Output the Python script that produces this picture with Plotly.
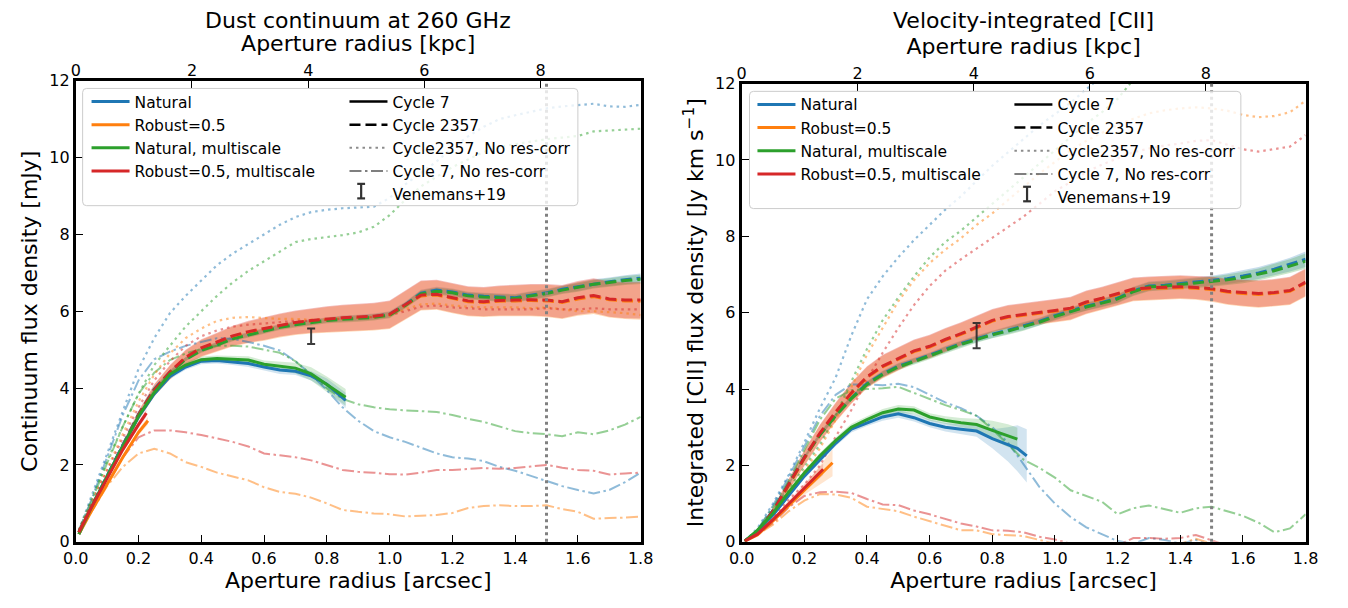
import plotly.graph_objects as go

# ============================ DATA ============================
# common radius grid (arcsec) for the Cycle 2357 / no-res-corr curves
r_grid = [0.01, 0.05, 0.10, 0.15, 0.20, 0.25, 0.30, 0.35, 0.40, 0.45, 0.50, 0.55, 0.60,
          0.65, 0.70, 0.75, 0.80, 0.85, 0.90, 0.95, 1.00, 1.05, 1.10, 1.15, 1.20, 1.25,
          1.30, 1.35, 1.40, 1.45, 1.50, 1.55, 1.60, 1.65, 1.70, 1.75, 1.80]

# ---------- Left panel: dust continuum [mJy] ----------
cont_c7_r = [0.01, 0.05, 0.10, 0.15, 0.20, 0.25, 0.30, 0.35, 0.40, 0.45, 0.50, 0.55, 0.60,
             0.65, 0.70, 0.75, 0.80, 0.86]
cont_c7_natural = [0.2, 0.9, 1.7, 2.5, 3.25, 3.85, 4.3, 4.55, 4.7, 4.72, 4.68, 4.64, 4.55,
                   4.47, 4.44, 4.32, 4.1, 3.68]
cont_c7_natural_err = [0.02, 0.03, 0.04, 0.05, 0.06, 0.06, 0.07, 0.07, 0.08, 0.08, 0.08, 0.09,
                       0.09, 0.1, 0.1, 0.12, 0.15, 0.2]
cont_c7_natms = [0.2, 0.9, 1.7, 2.5, 3.27, 3.88, 4.36, 4.6, 4.74, 4.77, 4.75, 4.73, 4.62,
                 4.57, 4.52, 4.37, 4.1, 3.76]
cont_c7_natms_err = [0.02, 0.03, 0.04, 0.05, 0.06, 0.06, 0.07, 0.07, 0.08, 0.08, 0.09, 0.1,
                     0.1, 0.12, 0.14, 0.17, 0.2, 0.22]
cont_c7_robust_r = [0.01, 0.05, 0.10, 0.15, 0.20, 0.23]
cont_c7_robust = [0.2, 0.8, 1.5, 2.2, 2.85, 3.15]
cont_c7_robms_r = [0.01, 0.05, 0.10, 0.15, 0.20, 0.225]
cont_c7_robms = [0.25, 0.9, 1.65, 2.4, 3.05, 3.35]
cont_c7_rob_err = [0.02, 0.03, 0.05, 0.06, 0.08, 0.1]

cont_c2357_natural = [0.25, 0.92, 1.72, 2.52, 3.32, 3.97, 4.42, 4.76, 5.0, 5.14, 5.3, 5.4, 5.5,
                      5.6, 5.67, 5.72, 5.78, 5.81, 5.83, 5.86, 5.92, 6.17, 6.47, 6.55, 6.5, 6.42,
                      6.39, 6.37, 6.35, 6.42, 6.48, 6.57, 6.64, 6.72, 6.77, 6.82, 6.86]
cont_c2357_robust = [0.25, 0.88, 1.68, 2.48, 3.28, 3.93, 4.4, 4.78, 5.03, 5.18, 5.34, 5.45, 5.53,
                     5.62, 5.69, 5.74, 5.78, 5.81, 5.83, 5.85, 5.9, 6.15, 6.4, 6.42, 6.33, 6.25,
                     6.23, 6.26, 6.27, 6.28, 6.27, 6.23, 6.32, 6.38, 6.3, 6.27, 6.26]
cont_c2357_natms = [0.25, 0.9, 1.7, 2.5, 3.3, 3.95, 4.4, 4.75, 4.98, 5.12, 5.28, 5.38, 5.48,
                    5.58, 5.65, 5.7, 5.76, 5.79, 5.81, 5.84, 5.9, 6.15, 6.45, 6.52, 6.48, 6.4,
                    6.37, 6.35, 6.33, 6.4, 6.46, 6.55, 6.62, 6.7, 6.75, 6.8, 6.83]
cont_c2357_robms = [0.25, 0.9, 1.7, 2.5, 3.3, 3.95, 4.42, 4.8, 5.05, 5.2, 5.36, 5.47, 5.55,
                    5.64, 5.71, 5.76, 5.8, 5.83, 5.85, 5.87, 5.92, 6.18, 6.42, 6.44, 6.35, 6.27,
                    6.25, 6.28, 6.29, 6.3, 6.29, 6.25, 6.35, 6.41, 6.32, 6.29, 6.29]
cont_c2357_nat_err = [0.01, 0.02, 0.03, 0.04, 0.04, 0.05, 0.05, 0.05, 0.06, 0.06, 0.06, 0.06,
                      0.07, 0.07, 0.07, 0.07, 0.07, 0.08, 0.08, 0.08, 0.08, 0.08, 0.09, 0.09,
                      0.09, 0.09, 0.09, 0.1, 0.1, 0.1, 0.1, 0.1, 0.11, 0.11, 0.11, 0.12, 0.12]
cont_c2357_rob_err = [0.02, 0.05, 0.08, 0.1, 0.12, 0.15, 0.18, 0.2, 0.22, 0.24, 0.26, 0.28, 0.3,
                      0.3, 0.31, 0.32, 0.33, 0.34, 0.35, 0.35, 0.36, 0.37, 0.38, 0.38, 0.38, 0.38,
                      0.38, 0.39, 0.4, 0.41, 0.42, 0.43, 0.44, 0.45, 0.46, 0.47, 0.48]

cont_nores_natural = [0.3, 1.2, 2.3, 3.4, 4.5, 5.3, 5.95, 6.4, 6.8, 7.2, 7.5, 7.75, 8.0, 8.25,
                      8.45, 8.58, 8.64, 8.68, 8.7, 8.72, 8.95, 9.3, 9.6, 9.9, 10.25, 10.55, 10.8,
                      11.0, 11.1, 11.2, 11.28, 11.33, 11.36, 11.4, 11.33, 11.32, 11.37]
cont_nores_robust = [0.3, 1.0, 1.9, 2.8, 3.65, 4.35, 4.9, 5.3, 5.55, 5.75, 5.83, 5.85, 5.82, 5.8,
                     5.8, 5.78, 5.8, 5.82, 5.85, 5.85, 5.9, 6.05, 6.18, 6.2, 6.15, 6.12, 6.1, 6.1,
                     6.1, 6.08, 6.1, 6.05, 6.0, 6.0, 5.98, 5.95, 5.9]
cont_nores_natms = [0.3, 1.1, 2.1, 3.0, 3.85, 4.6, 5.1, 5.6, 6.0, 6.4, 6.75, 7.05, 7.3, 7.55,
                    7.8, 7.88, 7.93, 7.98, 8.05, 8.2, 8.5, 8.9, 9.25, 9.5, 9.75, 9.95, 10.15,
                    10.28, 10.35, 10.42, 10.48, 10.52, 10.56, 10.68, 10.7, 10.72, 10.75]
cont_nores_robms = [0.3, 1.0, 1.85, 2.7, 3.5, 4.2, 4.7, 5.1, 5.35, 5.5, 5.6, 5.65, 5.68, 5.72,
                    5.75, 5.75, 5.78, 5.8, 5.83, 5.85, 5.9, 6.0, 6.12, 6.15, 6.1, 6.08, 6.05, 6.05,
                    6.05, 6.05, 6.08, 6.05, 6.05, 6.08, 6.05, 6.05, 6.05]

cont_c7nores_natural = [0.3, 1.1, 2.2, 3.3, 4.2, 4.75, 4.95, 5.1, 5.2, 5.3, 5.28, 5.2, 5.1, 4.98,
                        4.7, 4.35, 3.95, 3.5, 3.15, 2.88, 2.72, 2.6, 2.45, 2.3, 2.2, 2.17, 2.1,
                        1.95, 1.85, 1.72, 1.58, 1.45, 1.35, 1.26, 1.35, 1.55, 1.8]
cont_c7nores_robust = [0.25, 0.8, 1.45, 1.95, 2.3, 2.42, 2.3, 2.07, 1.95, 1.8, 1.7, 1.6, 1.42,
                       1.3, 1.25, 1.15, 1.0, 0.83, 0.78, 0.74, 0.72, 0.66, 0.68, 0.7, 0.75, 0.88,
                       0.93, 0.95, 0.93, 0.93, 0.95, 0.85, 0.78, 0.6, 0.62, 0.63, 0.66]
cont_c7nores_natms = [0.3, 1.05, 2.05, 3.0, 3.85, 4.4, 4.73, 4.9, 5.02, 5.1, 5.1, 5.08, 5.0,
                      4.92, 4.7, 4.35, 4.0, 3.72, 3.58, 3.5, 3.45, 3.42, 3.4, 3.38, 3.3, 3.2,
                      3.12, 3.0, 2.88, 2.83, 2.8, 2.75, 2.85, 2.8, 2.9, 3.05, 3.25]
cont_c7nores_robms = [0.25, 0.85, 1.5, 2.2, 2.72, 2.9, 2.9, 2.85, 2.78, 2.68, 2.6, 2.48, 2.3,
                      2.25, 2.2, 2.12, 2.0, 1.87, 1.82, 1.8, 1.76, 1.75, 1.8, 1.87, 1.87, 1.9,
                      1.92, 1.9, 1.92, 1.96, 2.0, 1.93, 1.87, 1.85, 1.75, 1.78, 1.8]

cont_venemans_r, cont_venemans, cont_venemans_err = [0.75], [5.35], [0.2]

# ---------- Right panel: velocity-integrated [CII] [Jy km/s] ----------
cii_c7_nat_r = [0.01, 0.05, 0.10, 0.15, 0.20, 0.25, 0.30, 0.35, 0.40, 0.45, 0.50, 0.55, 0.60,
                0.65, 0.70, 0.75, 0.80, 0.85, 0.88, 0.91]
cii_c7_natural = [0.02, 0.28, 0.7, 1.22, 1.72, 2.15, 2.58, 2.95, 3.12, 3.27, 3.35, 3.25, 3.1,
                  3.0, 2.95, 2.9, 2.7, 2.55, 2.45, 2.25]
cii_c7_natural_err = [0.01, 0.03, 0.05, 0.06, 0.07, 0.08, 0.08, 0.09, 0.09, 0.1, 0.1, 0.1, 0.1,
                      0.11, 0.12, 0.15, 0.25, 0.45, 0.6, 0.7]
cii_c7_natms_r = [0.01, 0.05, 0.10, 0.15, 0.20, 0.25, 0.30, 0.35, 0.40, 0.45, 0.50, 0.55, 0.60,
                  0.65, 0.70, 0.75, 0.80, 0.85, 0.88]
cii_c7_natms = [0.02, 0.3, 0.75, 1.3, 1.8, 2.25, 2.65, 3.0, 3.2, 3.38, 3.48, 3.45, 3.27, 3.18,
                3.12, 3.07, 2.92, 2.78, 2.69]
cii_c7_natms_err = [0.01, 0.03, 0.05, 0.06, 0.07, 0.08, 0.08, 0.09, 0.09, 0.1, 0.1, 0.1, 0.1,
                    0.11, 0.12, 0.15, 0.25, 0.3, 0.3]
cii_c7_robust_r = [0.01, 0.05, 0.10, 0.15, 0.20, 0.25, 0.29]
cii_c7_robust = [0.02, 0.18, 0.55, 0.95, 1.35, 1.75, 2.07]
cii_c7_robust_err = [0.01, 0.03, 0.05, 0.08, 0.12, 0.25, 0.35]
cii_c7_robms_r = [0.01, 0.05, 0.10, 0.15, 0.20, 0.25, 0.26]
cii_c7_robms = [0.02, 0.2, 0.58, 1.0, 1.42, 1.82, 1.9]
cii_c7_robms_err = [0.01, 0.03, 0.05, 0.07, 0.1, 0.15, 0.15]

cii_c2357_natural = [0.02, 0.26, 0.82, 1.52, 2.22, 2.82, 3.32, 3.77, 4.14, 4.4, 4.6, 4.74, 4.88,
                     5.04, 5.19, 5.32, 5.44, 5.54, 5.65, 5.77, 5.92, 6.05, 6.17, 6.27, 6.38, 6.57,
                     6.7, 6.72, 6.76, 6.8, 6.84, 6.89, 6.96, 7.04, 7.14, 7.26, 7.4]
cii_c2357_robust = [0.02, 0.24, 0.78, 1.48, 2.18, 2.83, 3.38, 3.88, 4.3, 4.58, 4.78, 4.98, 5.1,
                    5.28, 5.43, 5.6, 5.78, 5.88, 5.93, 5.98, 6.04, 6.1, 6.26, 6.36, 6.48, 6.6,
                    6.63, 6.64, 6.66, 6.64, 6.61, 6.54, 6.5, 6.48, 6.51, 6.56, 6.78]
cii_c2357_natms = [0.02, 0.25, 0.8, 1.5, 2.2, 2.8, 3.3, 3.75, 4.12, 4.38, 4.58, 4.72, 4.86, 5.02,
                   5.17, 5.3, 5.42, 5.52, 5.63, 5.75, 5.9, 6.03, 6.15, 6.25, 6.36, 6.55, 6.68,
                   6.7, 6.74, 6.78, 6.81, 6.86, 6.92, 7.0, 7.1, 7.22, 7.35]
cii_c2357_robms = [0.02, 0.25, 0.8, 1.5, 2.2, 2.85, 3.4, 3.9, 4.32, 4.6, 4.8, 5.0, 5.12, 5.3,
                   5.45, 5.62, 5.8, 5.9, 5.95, 6.0, 6.06, 6.12, 6.28, 6.38, 6.5, 6.62, 6.65,
                   6.66, 6.68, 6.66, 6.63, 6.56, 6.52, 6.5, 6.53, 6.58, 6.8]
cii_c2357_nat_err = [0.01, 0.02, 0.03, 0.04, 0.05, 0.06, 0.06, 0.07, 0.07, 0.08, 0.08, 0.08,
                     0.08, 0.09, 0.09, 0.09, 0.09, 0.1, 0.1, 0.1, 0.1, 0.1, 0.1, 0.11, 0.11, 0.11,
                     0.12, 0.12, 0.12, 0.13, 0.13, 0.14, 0.15, 0.16, 0.17, 0.18, 0.2]
cii_c2357_rob_err = [0.01, 0.05, 0.1, 0.15, 0.2, 0.22, 0.25, 0.27, 0.28, 0.3, 0.3, 0.3, 0.3,
                     0.3, 0.3, 0.3, 0.3, 0.3, 0.3, 0.3, 0.3, 0.3, 0.3, 0.3, 0.3, 0.3, 0.3, 0.3,
                     0.3, 0.3, 0.32, 0.33, 0.34, 0.35, 0.35, 0.36, 0.36]

cii_nores_natural_r = [0.01, 0.05, 0.10, 0.15, 0.20, 0.25, 0.30, 0.35, 0.40, 0.45, 0.50, 0.55,
                       0.60, 0.65, 0.70, 0.75, 0.80, 0.85, 0.90, 0.95, 1.00, 1.05, 1.10, 1.15]
cii_nores_natural = [0.02, 0.35, 1.0, 1.75, 2.6, 3.5, 4.3, 5.4, 6.35, 6.95, 7.45, 7.9, 8.3, 8.7,
                     9.05, 9.45, 9.85, 10.2, 10.55, 10.9, 11.2, 11.5, 11.85, 12.2]
cii_nores_natms_r = [0.01, 0.05, 0.10, 0.15, 0.20, 0.25, 0.30, 0.35, 0.40, 0.45, 0.50, 0.55,
                     0.60, 0.65, 0.70, 0.75, 0.80, 0.85, 0.90, 0.95, 1.00, 1.05, 1.10, 1.15,
                     1.20, 1.25]
cii_nores_natms = [0.02, 0.3, 0.8, 1.4, 1.95, 2.55, 3.3, 4.2, 5.05, 5.8, 6.4, 6.95, 7.45, 7.85,
                   8.15, 8.5, 8.85, 9.2, 9.55, 9.9, 10.25, 10.6, 10.95, 11.25, 11.6, 12.1]
cii_nores_robust = [0.02, 0.28, 0.75, 1.3, 1.85, 2.45, 3.2, 4.05, 4.9, 5.6, 6.3, 6.85, 7.3, 7.65,
                    7.95, 8.3, 8.6, 8.95, 9.3, 9.64, 9.95, 10.25, 10.5, 10.72, 10.92, 11.08,
                    11.22, 11.3, 11.35, 11.38, 11.35, 11.29, 11.18, 11.12, 11.15, 11.25, 11.55]
cii_nores_robms = [0.02, 0.25, 0.65, 1.1, 1.5, 2.0, 2.75, 3.45, 4.25, 4.95, 5.6, 6.2, 6.7, 7.1,
                   7.4, 7.68, 7.95, 8.25, 8.52, 8.85, 9.18, 9.42, 9.68, 9.88, 10.05, 10.2, 10.3,
                   10.38, 10.43, 10.5, 10.52, 10.4, 10.28, 10.22, 10.28, 10.35, 10.65]

cii_c7nores_natural = [0.02, 0.3, 0.95, 1.7, 2.5, 3.3, 3.85, 4.12, 4.12, 4.1, 4.14, 4.05, 3.85,
                       3.65, 3.5, 3.3, 3.0, 2.6, 2.03, 1.44, 1.0, 0.65, 0.38, 0.2, 0.02, -0.05,
                       0.1, 0.05, -0.05, 0.05, -0.1, -0.2, -0.3, -0.3, -0.3, -0.3, -0.3]
cii_c7nores_robust = [0.02, 0.18, 0.45, 0.8, 1.08, 1.25, 1.24, 1.15, 0.92, 0.86, 0.8, 0.66, 0.55,
                      0.42, 0.3, 0.3, 0.2, 0.17, 0.15, 0.05, -0.05, -0.1, -0.1, -0.1, -0.1, -0.1,
                      -0.05, -0.05, -0.05, 0.08, -0.05, -0.1, -0.1, -0.1, -0.1, -0.1, -0.1]
cii_c7nores_natms = [0.02, 0.3, 0.9, 1.6, 2.4, 3.2, 3.75, 3.97, 4.0, 4.02, 4.06, 3.9, 3.75,
                     3.58, 3.45, 3.3, 2.95, 2.55, 2.15, 1.94, 1.68, 1.35, 1.2, 1.05, 0.72, 0.88,
                     0.95, 0.85, 0.76, 0.88, 0.92, 0.8, 0.68, 0.5, 0.25, 0.35, 0.72]
cii_c7nores_robms = [0.02, 0.2, 0.5, 0.9, 1.2, 1.3, 1.31, 1.28, 1.12, 0.98, 0.96, 0.82, 0.72,
                     0.59, 0.48, 0.4, 0.3, 0.29, 0.25, 0.13, 0.06, -0.05, -0.1, -0.1, -0.1, 0.1,
                     0.1, 0.08, 0.1, 0.18, 0.03, -0.1, -0.1, -0.1, -0.1, -0.1, -0.1]

cii_venemans_r, cii_venemans, cii_venemans_err = [0.75], [5.4], [0.33]

kpc_per_arcsec = 5.40
aperture_limit_arcsec = 1.5
kpc_ticks = [0, 2, 4, 6, 8]
weighting_labels = ["Natural", "Robust=0.5", "Natural, multiscale", "Robust=0.5, multiscale"]
style_labels = ["Cycle 7", "Cycle 2357", "Cycle2357, No res-corr", "Cycle 7, No res-corr"]

# ============================ FIGURE ============================
W, H = 1348, 608
FONT = "DejaVu Sans"
BLUE, ORANGE, GREEN, RED = (31, 119, 180), (255, 127, 14), (44, 160, 44), (214, 39, 40)


def rgba(c, a=1.0):
    return f"rgba({c[0]},{c[1]},{c[2]},{a})"


DASHES = {"solid": "solid", "dashed": "11px,5px", "dotted": "2.5px,4px",
          "dashdot": "12px,3.5px,2.5px,3.5px"}

fig = go.Figure()


def line(xa, ya, x, y, c, style, alpha=1.0, width=3.0):
    fig.add_trace(go.Scatter(x=x, y=y, mode="lines", xaxis=xa, yaxis=ya,
                             line=dict(color=rgba(c, alpha), width=width, dash=DASHES[style]),
                             showlegend=False, hoverinfo="skip"))


def band(xa, ya, x, y, e, c, alpha=0.3):
    up = [v + d for v, d in zip(y, e)]
    lo = [v - d for v, d in zip(y, e)]
    fig.add_trace(go.Scatter(x=list(x) + list(x)[::-1], y=up + lo[::-1], mode="lines",
                             xaxis=xa, yaxis=ya, fill="toself", fillcolor=rgba(c, alpha),
                             line=dict(width=0), showlegend=False, hoverinfo="skip"))


def panel(xa, ya, d):
    band(xa, ya, r_grid, d["c2357"][0], d["c2357_err"][0], BLUE, 0.25)
    band(xa, ya, r_grid, d["c2357"][1], d["c2357_err"][1], ORANGE, 0.3)
    band(xa, ya, r_grid, d["c2357"][2], d["c2357_err"][0], GREEN, 0.25)
    band(xa, ya, r_grid, d["c2357"][3], d["c2357_err"][1], RED, 0.3)
    for (rx, y, e, c) in d["c7"]:
        band(xa, ya, rx, y, e, c, 0.2)
    for y, c in zip(d["c7nores"], (BLUE, ORANGE, GREEN, RED)):
        line(xa, ya, r_grid, y, c, "dashdot", 0.5, 2.0)
    for (rx, y), c in zip(d["nores"], (BLUE, ORANGE, GREEN, RED)):
        line(xa, ya, rx, y, c, "dotted", 0.5, 2.2)
    for y, c in zip(d["c2357"], (BLUE, ORANGE, GREEN, RED)):
        line(xa, ya, r_grid, y, c, "dashed", 1.0, 3.0)
    for (rx, y, e, c) in d["c7"]:
        line(xa, ya, rx, y, c, "solid", 1.0, 3.0)
    vx, vy, ve = d["ven"]
    fig.add_trace(go.Scatter(x=vx, y=vy, mode="markers", xaxis=xa, yaxis=ya,
                             marker=dict(size=2, color="rgba(0,0,0,0)"),
                             error_y=dict(type="data", array=ve, color="rgba(40,40,40,0.9)",
                                          thickness=2, width=4),
                             showlegend=False, hoverinfo="skip"))


panel("x", "y", dict(
    c2357=[cont_c2357_natural, cont_c2357_robust, cont_c2357_natms, cont_c2357_robms],
    c2357_err=[cont_c2357_nat_err, cont_c2357_rob_err],
    c7=[(cont_c7_r, cont_c7_natural, cont_c7_natural_err, BLUE),
        (cont_c7_robust_r, cont_c7_robust, cont_c7_rob_err, ORANGE),
        (cont_c7_r, cont_c7_natms, cont_c7_natms_err, GREEN),
        (cont_c7_robms_r, cont_c7_robms, cont_c7_rob_err, RED)],
    c7nores=[cont_c7nores_natural, cont_c7nores_robust, cont_c7nores_natms, cont_c7nores_robms],
    nores=[(r_grid, cont_nores_natural), (r_grid, cont_nores_robust),
           (r_grid, cont_nores_natms), (r_grid, cont_nores_robms)],
    ven=(cont_venemans_r, cont_venemans, cont_venemans_err)))

panel("x3", "y2", dict(
    c2357=[cii_c2357_natural, cii_c2357_robust, cii_c2357_natms, cii_c2357_robms],
    c2357_err=[cii_c2357_nat_err, cii_c2357_rob_err],
    c7=[(cii_c7_nat_r, cii_c7_natural, cii_c7_natural_err, BLUE),
        (cii_c7_robust_r, cii_c7_robust, cii_c7_robust_err, ORANGE),
        (cii_c7_natms_r, cii_c7_natms, cii_c7_natms_err, GREEN),
        (cii_c7_robms_r, cii_c7_robms, cii_c7_robms_err, RED)],
    c7nores=[cii_c7nores_natural, cii_c7nores_robust, cii_c7nores_natms, cii_c7nores_robms],
    nores=[(cii_nores_natural_r, cii_nores_natural), (r_grid, cii_nores_robust),
           (cii_nores_natms_r, cii_nores_natms), (r_grid, cii_nores_robms)],
    ven=(cii_venemans_r, cii_venemans, cii_venemans_err)))

# invisible traces so the top (kpc) axes exist
fig.add_trace(go.Scatter(x=[None], y=[None], xaxis="x2", yaxis="y", showlegend=False))
fig.add_trace(go.Scatter(x=[None], y=[None], xaxis="x4", yaxis="y2", showlegend=False))

# ---------- legends (two columns per panel) ----------
for leg_a, leg_b, xa, ya in (("legend", "legend2", "x", "y"), ("legend3", "legend4", "x3", "y2")):
    for lab, c in zip(weighting_labels, (BLUE, ORANGE, GREEN, RED)):
        fig.add_trace(go.Scatter(x=[None], y=[None], xaxis=xa, yaxis=ya, mode="lines", name=lab,
                                 line=dict(color=rgba(c), width=3), legend=leg_a))
    for lab, col, st, w in zip(style_labels,
                               ("black", "black", "rgba(0,0,0,0.45)", "rgba(0,0,0,0.5)"),
                               ("solid", "dashed", "dotted", "dashdot"), (2.5, 2.5, 2.0, 2.0)):
        fig.add_trace(go.Scatter(x=[None], y=[None], xaxis=xa, yaxis=ya, mode="lines", name=lab,
                                 line=dict(color=col, width=w, dash=DASHES[st]), legend=leg_b))
    # the errorbar-shaped key for this entry is drawn as shapes below
    fig.add_trace(go.Scatter(x=[None], y=[None], xaxis=xa, yaxis=ya, mode="markers",
                             name="Venemans+19", legend=leg_b,
                             marker=dict(size=1, color="rgba(0,0,0,0)")))

TICKF = dict(family=FONT, size=16, color="black")
LABF = dict(family=FONT, size=22, color="black")
axis_common = dict(ticks="inside", ticklen=7, tickwidth=1.2, tickcolor="black",
                   showgrid=False, zeroline=False, tickfont=TICKF)

L_x = [64 / W, 640 / W]
R_x = [743 / W, 1318 / W]
L_y = [1 - 550 / H, 1 - 74 / H]
R_y = [1 - 550 / H, 1 - 77 / H]

fig.update_layout(
    width=W, height=H, margin=dict(l=0, r=0, t=0, b=0),
    paper_bgcolor="white", plot_bgcolor="white",
    font=dict(family=FONT, color="black"),
    xaxis=dict(domain=L_x, anchor="y", range=[0, 1.8], dtick=0.2, tick0=0, tickformat=".1f",
               showline=True, linewidth=3, linecolor="black", mirror=True,
               title=dict(text="Aperture radius [arcsec]", font=LABF, standoff=6), **axis_common),
    xaxis2=dict(overlaying="x", anchor="y", side="top", range=[0, 1.8 * kpc_per_arcsec],
                tickvals=kpc_ticks, showline=False,
                title=dict(text="Aperture radius [kpc]", font=LABF, standoff=3), **axis_common),
    yaxis=dict(domain=L_y, anchor="x", range=[0, 12], dtick=2, showline=True, linewidth=3,
               linecolor="black", mirror=True,
               title=dict(text="Continuum flux density [mJy]", font=LABF, standoff=6),
               **axis_common),
    xaxis3=dict(domain=R_x, anchor="y2", range=[0, 1.8], dtick=0.2, tick0=0, tickformat=".1f",
                showline=True, linewidth=3, linecolor="black", mirror=True,
                title=dict(text="Aperture radius [arcsec]", font=LABF, standoff=6), **axis_common),
    xaxis4=dict(overlaying="x3", anchor="y2", side="top", range=[0, 1.8 * kpc_per_arcsec],
                tickvals=kpc_ticks, showline=False,
                title=dict(text="Aperture radius [kpc]", font=LABF, standoff=3), **axis_common),
    yaxis2=dict(domain=R_y, anchor="x3", range=[0, 12], dtick=2, showline=True, linewidth=3,
                linecolor="black", mirror=True,
                title=dict(text="Integrated [CII] flux density [Jy km s<sup>−1</sup>]", font=LABF,
                           standoff=6),
                **axis_common),
)

LEGF = dict(family=FONT, size=15.5, color="black")
for name, xp, yp in (("legend", 75, 78.4), ("legend2", 338, 78.4),
                     ("legend3", 754, 81.4), ("legend4", 1016, 81.4)):
    fig.update_layout({name: dict(x=xp / W, y=1 - yp / H, xanchor="left", yanchor="top",
                                  bgcolor="rgba(0,0,0,0)", borderwidth=0, font=LEGF,
                                  tracegroupgap=0, itemwidth=38)})


def rounded_box(x0, y0, x1, y1, r=4):
    X = lambda p: p / W
    Y = lambda p: 1 - p / H
    return (f"M{X(x0 + r)},{Y(y0)} L{X(x1 - r)},{Y(y0)} Q{X(x1)},{Y(y0)} {X(x1)},{Y(y0 + r)} "
            f"L{X(x1)},{Y(y1 - r)} Q{X(x1)},{Y(y1)} {X(x1 - r)},{Y(y1)} "
            f"L{X(x0 + r)},{Y(y1)} Q{X(x0)},{Y(y1)} {X(x0)},{Y(y1 - r)} "
            f"L{X(x0)},{Y(y0 + r)} Q{X(x0)},{Y(y0)} {X(x0 + r)},{Y(y0)} Z")


shapes = []
for xa, ya in (("x", "y"), ("x3", "y2")):
    shapes.append(dict(type="line", xref=xa, yref=f"{ya} domain", x0=aperture_limit_arcsec,
                       x1=aperture_limit_arcsec, y0=0, y1=1, layer="above",
                       line=dict(color="rgb(128,128,128)", width=3, dash="3px,3.5px")))
for (x0, y0, x1, y1) in ((71, 82, 576, 203), (751, 85, 1252, 206)):
    shapes.append(dict(type="path", xref="paper", yref="paper", path=rounded_box(x0, y0, x1, y1),
                       fillcolor="rgba(255,255,255,0.8)", layer="above",
                       line=dict(color="rgb(204,204,204)", width=1)))
# errorbar-shaped legend keys ("I") for Venemans+19
for cx, cy in ((355, 188), (1034, 191)):
    ikey = dict(xref="paper", yref="paper", type="line", layer="above",
                line=dict(color="rgb(50,50,50)", width=2.2))
    shapes.append(dict(ikey, x0=cx / W, x1=cx / W, y0=1 - (cy - 7.5) / H, y1=1 - (cy + 7.5) / H))
    shapes.append(dict(ikey, x0=(cx - 4) / W, x1=(cx + 4) / W, y0=1 - (cy - 7.5) / H,
                       y1=1 - (cy - 7.5) / H))
    shapes.append(dict(ikey, x0=(cx - 4) / W, x1=(cx + 4) / W, y0=1 - (cy + 7.5) / H,
                       y1=1 - (cy + 7.5) / H))
fig.update_layout(shapes=shapes)

fig.add_annotation(text="Dust continuum at 260 GHz", xref="paper", yref="paper",
                   x=(L_x[0] + L_x[1]) / 2, y=1 - 12 / H, showarrow=False, font=LABF,
                   xanchor="center", yanchor="middle")
fig.add_annotation(text="Velocity-integrated [CII]", xref="paper", yref="paper",
                   x=(R_x[0] + R_x[1]) / 2, y=1 - 12 / H, showarrow=False, font=LABF,
                   xanchor="center", yanchor="middle")

fig.write_html("out.html", config={"displayModeBar": False},
               post_script="document.body.style.margin='0px';")
